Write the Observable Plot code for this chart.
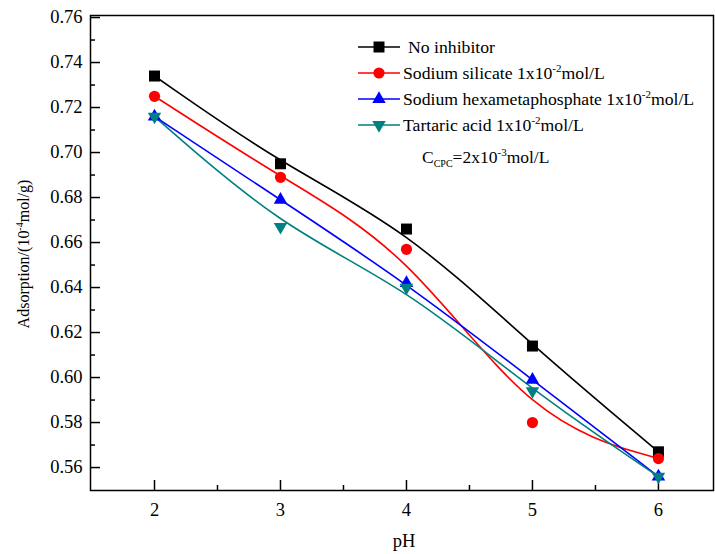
<!DOCTYPE html>
<html><head><meta charset="utf-8">
<script src="https://cdn.jsdelivr.net/npm/d3@7"></script>
<script src="https://cdn.jsdelivr.net/npm/@observablehq/plot@0.6"></script>
<style>body{margin:0;background:#fff}</style></head>
<body><div id="chart"></div>
<script>
const pH = [2, 3, 4, 5, 6];
const noInhibitor = [0.734, 0.695, 0.666, 0.614, 0.567];
const sodiumSilicate = [0.725, 0.689, 0.657, 0.580, 0.564];
const hexametaphosphate = [0.716, 0.679, 0.642, 0.599, 0.556];
const tartaricAcid = [0.716, 0.667, 0.640, 0.594, 0.556];
const seriesValues = [noInhibitor, sodiumSilicate, hexametaphosphate, tartaricAcid];
const seriesNames = ["No inhibitor", "Sodium silicate", "Sodium hexametaphosphate", "Tartaric acid"];
const seriesColors = ["#000000", "#ff0000", "#0000ff", "#008080"];
const seriesSymbols = ["square", "circle", "triangle", "triangle"];
const seriesRotate = [0, 0, 0, 180];
const seriesR = [6.2, 5.6, 5, 5];
const legendSuffix = ["", " 1x10", " 1x10", " 1x10"];
const xTicks = [2, 3, 4, 5, 6];
const xMinor = [2.5, 3.5, 4.5, 5.5];
const yTicks = [0.56, 0.58, 0.60, 0.62, 0.64, 0.66, 0.68, 0.70, 0.72, 0.74, 0.76];
const yMinor = [0.57, 0.59, 0.61, 0.63, 0.65, 0.67, 0.69, 0.71, 0.73, 0.75];

const rows = [];
seriesValues.forEach((vals, s) => vals.forEach((v, i) => rows.push({series: seriesNames[s], s, pH: pH[i], v})));

const font = "Liberation Serif, Times New Roman, serif";
const marks = [
  Plot.ruleX(xTicks, {x: d => d, insetTop: 465, stroke: "black", strokeWidth: 1.5}),
  Plot.ruleX(xMinor, {x: d => d, insetTop: 470, stroke: "black", strokeWidth: 1.5}),
  Plot.ruleY(yTicks, {y: d => d, insetRight: 613, stroke: "black", strokeWidth: 1.5}),
  Plot.ruleY(yMinor, {y: d => d, insetRight: 618, stroke: "black", strokeWidth: 1.5}),
  Plot.axisX(xTicks, {tickSize: 0, tickPadding: 12, fontSize: 18.5, tickFormat: d => String(d), label: null}),
  Plot.axisY(yTicks, {tickSize: 0, tickPadding: 8, fontSize: 18.5, tickFormat: d => d.toFixed(2), label: null})
];
seriesNames.forEach((name, s) => {
  const data = rows.filter(d => d.s === s);
  marks.push(Plot.line(data, {x: "pH", y: "v", curve: "basis", stroke: seriesColors[s], strokeWidth: 1.6}));
});
seriesNames.forEach((name, s) => {
  const data = rows.filter(d => d.s === s);
  marks.push(Plot.dot(data, {x: "pH", y: "v", symbol: seriesSymbols[s], fill: seriesColors[s], stroke: "none", r: seriesR[s], rotate: seriesRotate[s]}));
});
marks.push(Plot.frame({stroke: "black", strokeWidth: 1.5}));

const plot = Plot.plot({
  width: 715, height: 554,
  marginLeft: 90, marginRight: 2, marginTop: 15, marginBottom: 64,
  x: {domain: [1.492, 6.437], axis: null},
  y: {domain: [0.5498, 0.7609], axis: null},
  style: {fontFamily: font, fontSize: "18.5px", color: "black", background: "white"},
  marks
});
document.getElementById("chart").appendChild(plot);

const svg = d3.select(plot);

// axis titles
const yt = svg.append("text").attr("transform", "translate(29,254) rotate(-90)")
  .attr("text-anchor", "middle").attr("font-family", font).attr("font-size", 16).attr("fill", "black");
yt.append("tspan").text("Adsorption/(10");
yt.append("tspan").attr("font-size", 10).attr("dy", -6).text("-4");
yt.append("tspan").attr("dy", 6).text("mol/g)");
svg.append("text").attr("x", 404).attr("y", 547).attr("text-anchor", "middle")
  .attr("font-family", font).attr("font-size", 18.5).attr("fill", "black").text("pH");

// legend
const legendY = [47, 73, 99, 125];
const symMap = {square: d3.symbolSquare, circle: d3.symbolCircle, triangle: d3.symbolTriangle};
const lg = svg.append("g").attr("font-family", font).attr("font-size", 17.7).attr("fill", "black").attr("text-anchor", "start");
seriesNames.forEach((name, s) => {
  const y = legendY[s];
  lg.append("line").attr("x1", 358).attr("x2", 400).attr("y1", y).attr("y2", y)
    .attr("stroke", seriesColors[s]).attr("stroke-width", 1.6);
  lg.append("path").attr("d", d3.symbol(symMap[seriesSymbols[s]], Math.PI * seriesR[s] * seriesR[s])())
    .attr("transform", `translate(379,${y}) rotate(${seriesRotate[s]})`).attr("fill", seriesColors[s]);
  const t = lg.append("text").attr("x", s === 0 ? 408 : 403).attr("y", y + 6).attr("text-anchor", "start");
  t.append("tspan").text(name + legendSuffix[s]);
  if (s > 0) {
    t.append("tspan").attr("font-size", 11).attr("dy", -7).text("-2");
    t.append("tspan").attr("dy", 7).text("mol/L");
  }
});
const ct = lg.append("text").attr("x", 422).attr("y", 163).attr("text-anchor", "start").attr("font-size", 17.5);
ct.append("tspan").text("C");
ct.append("tspan").attr("font-size", 10).attr("dy", 4).text("CPC");
ct.append("tspan").attr("dy", -4).text("=2x10");
ct.append("tspan").attr("font-size", 11).attr("dy", -7).text("-3");
ct.append("tspan").attr("dy", 7).text("mol/L");
</script>
</body></html>
